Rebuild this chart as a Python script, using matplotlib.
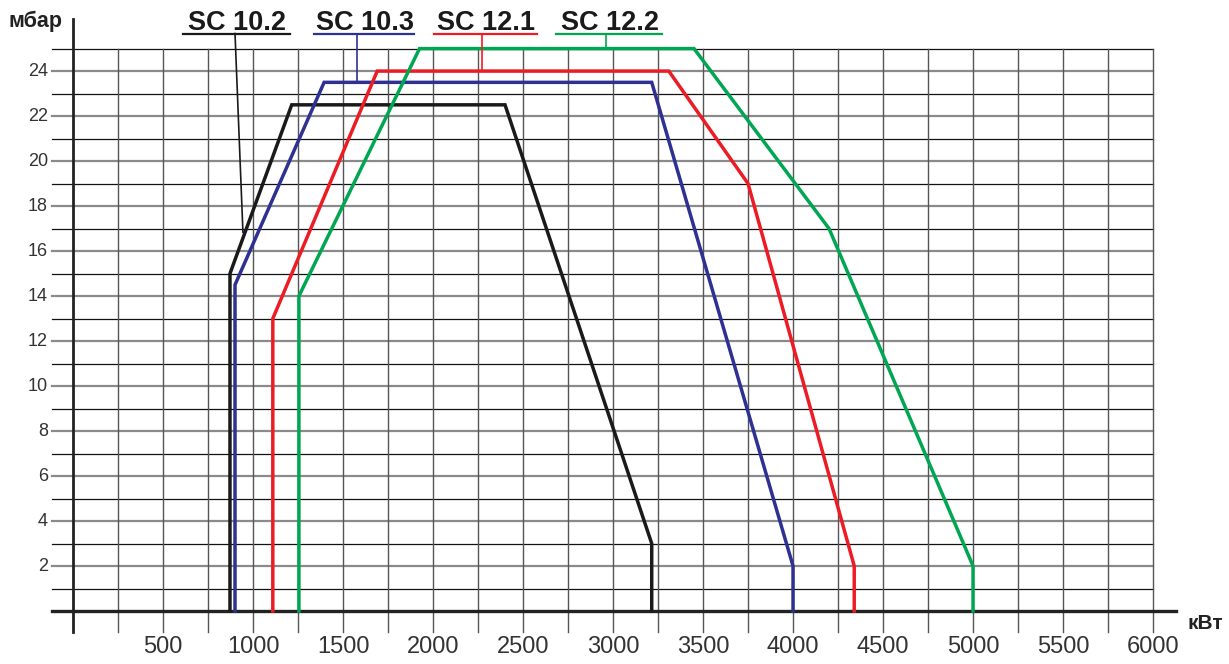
import matplotlib
matplotlib.use("Agg")
import matplotlib.pyplot as plt
import numpy as np

# burner working fields, x in kW, y in mbar
names = ["SC 10.2", "SC 10.3", "SC 12.1", "SC 12.2"]
colors = ["#1a1a1a", "#2e3192", "#ed1c24", "#00a651"]

sc102_x = [872, 872, 1215, 2400, 3215, 3215]
sc102_y = [0, 15, 22.5, 22.5, 3, 0]
sc103_x = [900, 900, 1395, 3215, 4000, 4000]
sc103_y = [0, 14.5, 23.5, 23.5, 2, 0]
sc121_x = [1110, 1110, 1690, 3310, 3750, 4340, 4340]
sc121_y = [0, 13, 24, 24, 19, 2, 0]
sc122_x = [1255, 1255, 1925, 3450, 4200, 5000, 5000]
sc122_y = [0, 14, 25, 25, 17, 2, 0]

x_ticks = [500, 1000, 1500, 2000, 2500, 3000, 3500, 4000, 4500, 5000, 5500, 6000]
y_ticks = [2, 4, 6, 8, 10, 12, 14, 16, 18, 20, 22, 24]

series = [(sc102_x, sc102_y), (sc103_x, sc103_y), (sc121_x, sc121_y), (sc122_x, sc122_y)]

plt.rcParams['font.family'] = ['Liberation Sans', 'DejaVu Sans']

fig = plt.figure(figsize=(12.29, 6.64), dpi=100)
ax = fig.add_axes([0, 0, 1, 1])
ax.axis('off')
ax.set_xlim(-405.6, 6422)
ax.set_ylim(-2.356, 27.16)

# grid
for v in range(1, 26):
    if v % 2 == 0:
        ax.plot([-118, 6000], [v, v], color="#8a8a8a", lw=1.6, zorder=1)
    else:
        ax.plot([-118, 6000], [v, v], color="#111111", lw=0.9, zorder=1)
for v in range(250, 6001, 250):
    ax.plot([v, v], [-0.93, 25], color="#555555", lw=1.0, zorder=1)

# axes
ax.plot([-118, 6130], [0, 0], color="#222222", lw=2.4, zorder=3)
ax.plot([0, 0], [-0.93, 26.3], color="#222222", lw=2.0, zorder=3)

for t in y_ticks:
    ax.text(-139, t, str(t), ha="right", va="center", fontsize=13, color="#333333")
for t in x_ticks:
    ax.text(t, -1.6, str(t), ha="center", va="center", fontsize=17, color="#333333")

ax.text(-361, 25.96, "мбар", ha="left", va="baseline", fontsize=15.5, fontweight="bold", color="#222222")
ax.text(6194, -0.8, "кВт", ha="left", va="baseline", fontsize=15, fontweight="bold", color="#222222")

# curves
for (xs, ys), c in zip(series, colors):
    ax.plot(xs, ys, color=c, lw=2.5, solid_joinstyle="miter", zorder=4)

# labels with underline and leader
label_cx = [911, 1622, 2294, 2983]
underline = [(611, 1205), (1339, 1894), (2006, 2578), (2683, 3272)]
leader_top = [(900, 25.67), (1578, 25.67), (2270, 25.67), (2960, 25.67)]
leader_end = [(944, 16.84), (1578, 23.5), (2270, 24), (2960, 25)]
for i, name in enumerate(names):
    ax.text(label_cx[i], 25.82, name, ha="center", va="baseline", fontsize=19.5,
            fontweight="bold", color="#1a1a1a")
    ax.plot(underline[i], [25.67, 25.67], color=colors[i], lw=1.6, zorder=4)
    ax.plot([leader_top[i][0], leader_end[i][0]], [leader_top[i][1], leader_end[i][1]],
            color=colors[i], lw=1.2, zorder=4)

fig.savefig("out.png", dpi=100)
